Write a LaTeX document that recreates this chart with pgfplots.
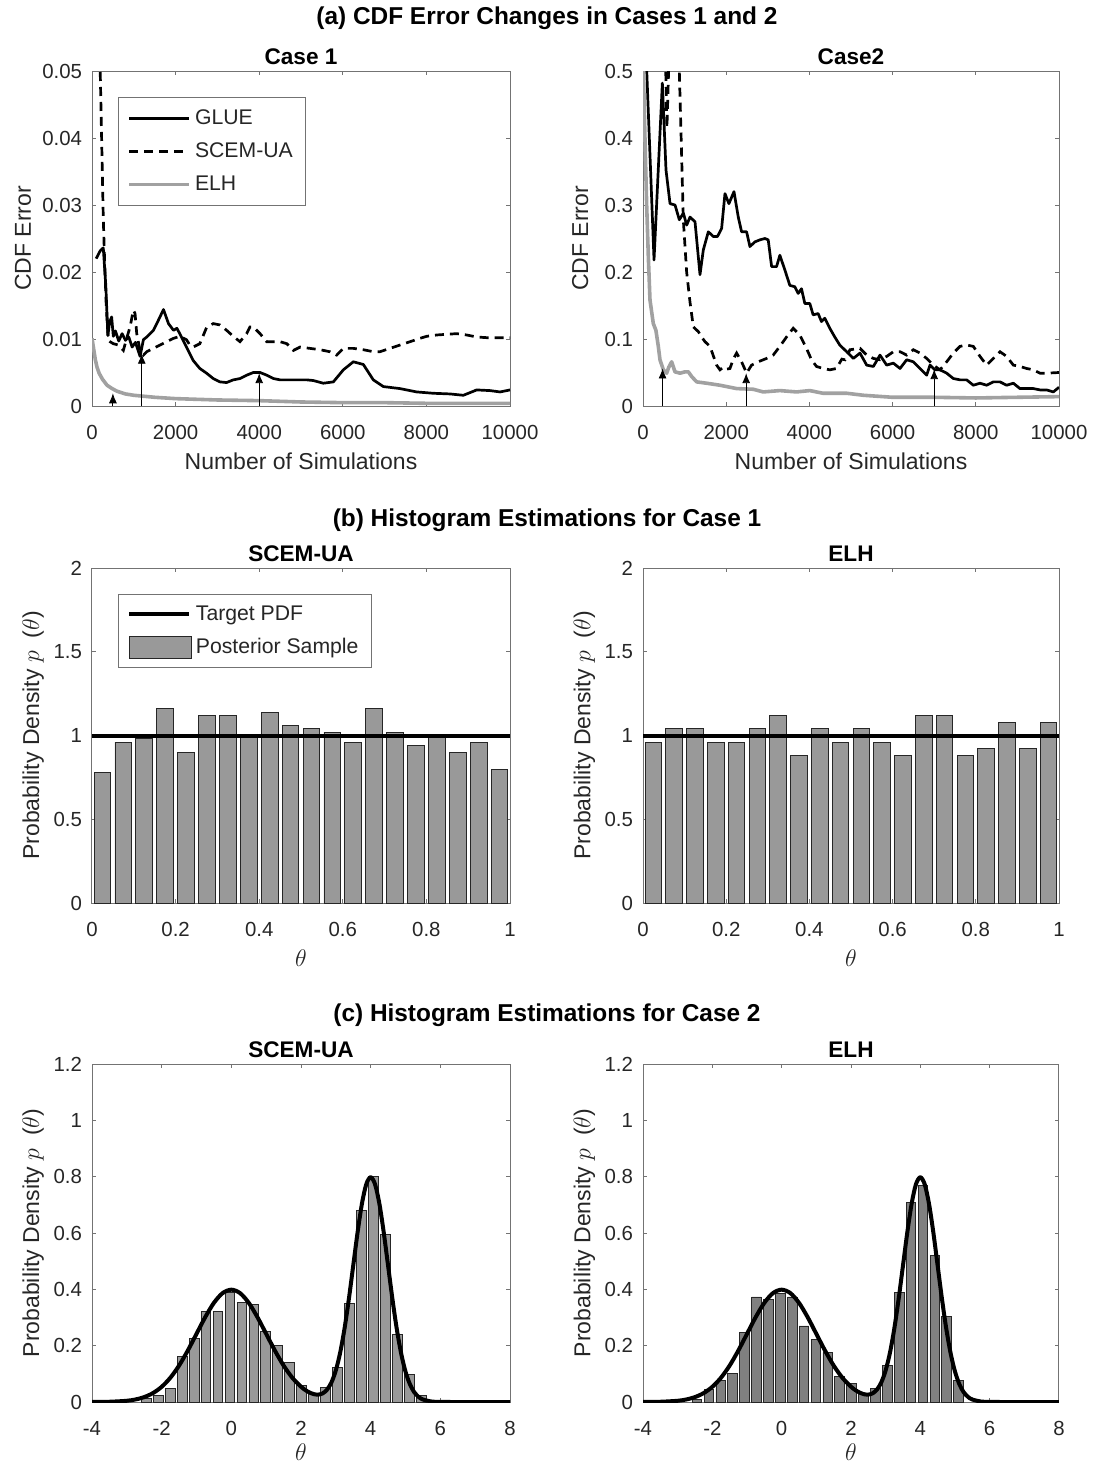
\documentclass[border=0pt]{standalone}
\usepackage{pgfplots}
\pgfplotsset{compat=1.18}
\usepackage{fontspec}
\setmainfont{Liberation Sans}
\usetikzlibrary{arrows.meta}

\newcommand\ticklab{\fontsize{10.2}{12}\selectfont}
\newcommand\leglab{\fontsize{10.6}{12.5}\selectfont}
\newcommand\lab{\fontsize{11.5}{13}\selectfont}
\newcommand\subt{\fontsize{11.3}{13}\selectfont\bfseries}
\newcommand\maint{\fontsize{12.2}{14}\selectfont\bfseries}

\definecolor{axgray}{gray}{0.45}
\definecolor{txt}{gray}{0.15}
\definecolor{elhline}{gray}{0.63}
\definecolor{barfill}{gray}{0.6}
\definecolor{barfillc}{gray}{0.5}

\tikzset{arr/.style={-{Latex[length=5pt,width=4pt]}, black, line width=0.45pt}}

\pgfplotsset{
  mlab/.style={
    scale only axis,
    scaled ticks=false,
    axis line style={axgray, line width=0.5pt},
    every tick/.style={axgray, line width=0.5pt},
    major tick length=2.2pt,
    tick align=inside,
    tick pos=both,
    tick label style={font=\ticklab, text=txt, inner sep=0pt},
    xticklabel style={text height=7.4pt, text depth=0pt},
    xticklabel shift=9.2pt,
    yticklabel shift=4.8pt,
    label style={font=\lab, text=txt, inner sep=0pt},
    title style={font=\subt, text=black, inner sep=0pt, yshift=-3pt},
    xlabel style={at={(axis description cs:0.5,0)}, anchor=north, yshift=-23pt},
    legend cell align=left,
    legend image code/.code={\draw[##1] (0pt,0pt) -- (30pt,0pt);},
  },
  boxlegend/.style={legend style={at={(0.062,0.922)}, anchor=north west, draw=axgray,
    line width=0.5pt, fill=white, font=\leglab, text=txt,
    inner xsep=4.5pt, inner ysep=#1, row sep=3.6pt}},
  cdfaxis/.style={
    mlab, width=209pt, height=167.5pt,
    xmin=0, xmax=10000,
    xtick={0,2000,4000,6000,8000,10000},
    xticklabels={0,2000,4000,6000,8000,10000},
    xlabel={Number of Simulations},
  },
  glue/.style={black, line width=1.35pt, line join=round},
  scem/.style={black, line width=1.35pt, dash pattern=on 4.5pt off 3pt},
  elh/.style={elhline, line width=1.8pt, line join=round},
  hist/.style={ybar, bar width=#1, draw=black!85, line width=0.45pt},
}

\begin{document}
\begin{tikzpicture}
\useasboundingbox (0,0) rectangle (547pt,-733pt);

\node[anchor=base] at (273.5pt,-12.5pt) {\maint (a) CDF Error Changes in Cases 1 and 2};
\node[anchor=base] at (273.5pt,-263pt) {\maint (b) Histogram Estimations for Case 1};
\node[anchor=base] at (273.5pt,-510.5pt) {\maint (c) Histogram Estimations for Case 2};

% ---------------- (a) Case 1 ----------------
\begin{axis}[cdfaxis, at={(46pt,-203pt)}, anchor=south west,
  ymin=0, ymax=0.05,
  ytick={0,0.01,0.02,0.03,0.04,0.05},
  yticklabels={0,0.01,0.02,0.03,0.04,0.05},
  ylabel={CDF Error},
  ylabel style={at={(axis description cs:-0.165,0.5)}, anchor=center},
  title={Case 1},
  boxlegend=4pt,
]
\addplot[glue] coordinates {
(100,0.0220) (200,0.0232) (270,0.0236) (330,0.0180) (380,0.0105) (420,0.0125) (470,0.0133)
(510,0.0104) (560,0.0112) (640,0.0097) (720,0.0108) (800,0.0098) (880,0.0103) (960,0.0088)
(1040,0.0095) (1150,0.0074) (1230,0.0099) (1310,0.0103) (1390,0.0108) (1470,0.0113)
(1550,0.0123) (1710,0.0144) (1830,0.0123) (1950,0.0113) (2030,0.0116) (2100,0.0108)
(2260,0.0088) (2420,0.0068) (2580,0.0056) (2740,0.0049) (2900,0.0041) (3060,0.0036)
(3220,0.0035) (3380,0.0039) (3540,0.0041) (3700,0.0046) (3860,0.0050) (4020,0.0050)
(4180,0.0046) (4340,0.0041) (4500,0.0039) (4820,0.0039) (4976,0.0039) (5140,0.0039)
(5295,0.0038) (5534,0.0034) (5774,0.0036) (6013,0.0054) (6252,0.0066) (6491,0.0062)
(6730,0.0039) (6970,0.0029) (7368,0.0026) (7767,0.0021) (8166,0.0019) (8565,0.0018)
(8884,0.0016) (9203,0.0024) (9522,0.0023) (9761,0.0021) (10000,0.0024)};
\addlegendentry{GLUE}
\addplot[scem] coordinates {
(150,0.070) (190,0.052) (230,0.040) (270,0.028) (300,0.022) (340,0.015) (390,0.0098)
(430,0.0096) (510,0.0093) (630,0.0091) (750,0.0083) (830,0.0101) (910,0.0118) (990,0.0143)
(1030,0.0138) (1070,0.0108) (1150,0.0083) (1230,0.0076) (1310,0.0081) (1470,0.0086)
(1630,0.0091) (1790,0.0096) (1950,0.0101) (2100,0.0104) (2260,0.0099) (2340,0.0091)
(2420,0.0088) (2580,0.0093) (2740,0.0117) (2900,0.0123) (3060,0.0121) (3220,0.0113)
(3380,0.0104) (3540,0.0096) (3700,0.0108) (3780,0.0118) (3860,0.0118) (4020,0.0108)
(4180,0.0096) (4340,0.0096) (4500,0.0096) (4660,0.0093) (4820,0.0083) (4980,0.0088)
(5215,0.0086) (5455,0.0084) (5694,0.0081) (5853,0.0076) (6013,0.0086) (6252,0.0086)
(6491,0.0084) (6730,0.0081) (6890,0.0081) (7129,0.0086) (7368,0.0091) (7608,0.0096)
(7847,0.0101) (8006,0.0104) (8245,0.0106) (8485,0.0107) (8724,0.0108) (8964,0.0106)
(9203,0.0103) (9442,0.0102) (9761,0.0102) (10000,0.0102)};
\addlegendentry{SCEM-UA}
\addplot[elh] coordinates {
(0,0.0101) (40,0.0085) (80,0.0069) (120,0.0058) (170,0.0049) (250,0.0040) (360,0.0031)
(480,0.0026) (600,0.0022) (800,0.0018) (1000,0.0016) (1500,0.0013) (2000,0.0011)
(3000,0.0009) (4000,0.0008) (5000,0.0006) (6000,0.0005) (7000,0.0005) (8000,0.0004)
(9000,0.0004) (10000,0.0004)};
\addlegendentry{ELH}
\draw[arr] (axis cs:500,0) -- (axis cs:500,0.0019);
\draw[arr] (axis cs:1190,0) -- (axis cs:1190,0.0078);
\draw[arr] (axis cs:4000,0) -- (axis cs:4000,0.0049);
\end{axis}

% ---------------- (a) Case 2 ----------------
\begin{axis}[cdfaxis, at={(321.5pt,-203pt)}, anchor=south west, width=208pt,
  ymin=0, ymax=0.5,
  ytick={0,0.1,0.2,0.3,0.4,0.5},
  yticklabels={0,0.1,0.2,0.3,0.4,0.5},
  ylabel={CDF Error},
  ylabel style={at={(axis description cs:-0.151,0.5)}, anchor=center},
  title={Case2},
]
\addplot[glue] coordinates {
(50,0.56) (90,0.50) (265,0.218) (465,0.482) (553,0.352) (650,0.302) (770,0.300) (873,0.278)
(970,0.288) (1050,0.270) (1130,0.282) (1250,0.275) (1370,0.196) (1450,0.233) (1570,0.260)
(1690,0.253) (1790,0.253) (1890,0.265) (1970,0.317) (2065,0.302) (2187,0.320) (2290,0.282)
(2370,0.260) (2490,0.260) (2570,0.238) (2690,0.245) (2810,0.248) (2930,0.250) (3010,0.248)
(3092,0.208) (3210,0.208) (3290,0.225) (3410,0.203) (3530,0.180) (3650,0.178) (3730,0.168)
(3810,0.175) (3890,0.153) (4010,0.153) (4090,0.136) (4210,0.138) (4290,0.126) (4370,0.131)
(4490,0.116) (4610,0.103) (4730,0.091) (4896,0.081) (5056,0.071) (5216,0.079) (5377,0.061)
(5537,0.059) (5697,0.076) (5857,0.061) (6018,0.064) (6178,0.056) (6338,0.069) (6498,0.066)
(6659,0.056) (6819,0.046) (6899,0.061) (7019,0.054) (7139,0.054) (7300,0.049) (7460,0.041)
(7620,0.039) (7780,0.039) (7941,0.031) (8101,0.034) (8261,0.031) (8421,0.036) (8582,0.036)
(8742,0.031) (8902,0.034) (9062,0.026) (9223,0.026) (9383,0.026) (9543,0.024) (9703,0.024)
(9864,0.021) (10000,0.028)};
\addplot[scem] coordinates {
(480,0.70) (575,0.415) (615,0.50) (660,0.70) (840,0.70) (873,0.50) (930,0.37) (969,0.278)
(1049,0.20) (1130,0.155) (1210,0.118) (1330,0.111) (1410,0.103) (1490,0.096) (1610,0.089)
(1690,0.075) (1770,0.061) (1850,0.054) (1930,0.058) (2010,0.055) (2090,0.056) (2170,0.070)
(2250,0.079) (2370,0.066) (2490,0.049) (2610,0.061) (2770,0.066) (2970,0.071) (3130,0.076)
(3290,0.089) (3450,0.103) (3610,0.116) (3770,0.106) (3930,0.086) (4050,0.069) (4170,0.059)
(4330,0.056) (4490,0.054) (4650,0.056) (4780,0.070) (4856,0.069) (4976,0.084) (5216,0.086)
(5377,0.076) (5537,0.071) (5697,0.069) (5857,0.074) (6018,0.081) (6178,0.081) (6338,0.076)
(6498,0.084) (6659,0.079) (6819,0.071) (6979,0.061) (7139,0.054) (7300,0.066) (7460,0.079)
(7620,0.089) (7780,0.091) (7941,0.089) (8101,0.074) (8261,0.061) (8421,0.071) (8582,0.081)
(8742,0.074) (8902,0.061) (9062,0.059) (9223,0.056) (9383,0.054) (9543,0.049) (9703,0.049)
(10000,0.050)};
\addplot[elh] coordinates {
(0,0.53) (48,0.397) (88,0.300) (128,0.223) (168,0.158) (248,0.123) (310,0.113) (368,0.089)
(408,0.069) (489,0.054) (569,0.049) (620,0.058) (689,0.066) (769,0.051) (890,0.049)
(1010,0.051) (1090,0.051) (1170,0.044) (1290,0.036) (1530,0.034) (1850,0.031) (2250,0.026)
(2650,0.025) (2890,0.021) (3290,0.023) (3690,0.021) (4010,0.023) (4330,0.019) (4900,0.019)
(5300,0.016) (6000,0.013) (7000,0.013) (8000,0.012) (9000,0.013) (10000,0.014)};
\draw[arr] (axis cs:470,0) -- (axis cs:470,0.056);
\draw[arr] (axis cs:2480,0) -- (axis cs:2480,0.049);
\draw[arr] (axis cs:7000,0) -- (axis cs:7000,0.055);
\end{axis}

% ---------------- (b) Case 1 histograms ----------------
\begin{axis}[mlab, at={(46pt,-451.5pt)}, anchor=south west, width=209pt, height=167.5pt,
  xmin=0, xmax=1, ymin=0, ymax=2,
  xtick={0,0.2,0.4,0.6,0.8,1}, xticklabels={0,0.2,0.4,0.6,0.8,1},
  ytick={0,0.5,1,1.5,2}, yticklabels={0,0.5,1,1.5,2},
  xlabel={$\theta$},
  ylabel={Probability Density $p$\ \ ($\theta$)},
  ylabel style={at={(axis description cs:-0.141,0.5)}, anchor=center},
  title={SCEM-UA},
  boxlegend=3.5pt,
]
\addplot[hist=0.04, fill=barfill, forget plot] coordinates {
(0.025,0.78) (0.075,0.96) (0.125,0.98) (0.175,1.16) (0.225,0.90) (0.275,1.12) (0.325,1.12)
(0.375,1.00) (0.425,1.14) (0.475,1.06) (0.525,1.04) (0.575,1.02) (0.625,0.96) (0.675,1.16)
(0.725,1.02) (0.775,0.94) (0.825,1.00) (0.875,0.90) (0.925,0.96) (0.975,0.80)};
\addplot[black, line width=2pt, forget plot] coordinates {(0,1) (1,1)};
\addlegendimage{black, line width=2pt}
\addlegendentry{Target PDF}
\addlegendimage{legend image code/.code={\draw[draw=black!85, fill=barfill, line width=0.5pt] (0pt,-5.5pt) rectangle (31pt,5.5pt);}}
\addlegendentry{Posterior Sample}
\end{axis}

\begin{axis}[mlab, at={(321.5pt,-451.5pt)}, anchor=south west, width=208pt, height=167.5pt,
  xmin=0, xmax=1, ymin=0, ymax=2,
  xtick={0,0.2,0.4,0.6,0.8,1}, xticklabels={0,0.2,0.4,0.6,0.8,1},
  ytick={0,0.5,1,1.5,2}, yticklabels={0,0.5,1,1.5,2},
  xlabel={$\theta$},
  ylabel={Probability Density $p$\ \ ($\theta$)},
  ylabel style={at={(axis description cs:-0.141,0.5)}, anchor=center},
  title={ELH},
]
\addplot[hist=0.04, fill=barfill] coordinates {
(0.025,0.96) (0.075,1.04) (0.125,1.04) (0.175,0.96) (0.225,0.96) (0.275,1.04) (0.325,1.12)
(0.375,0.88) (0.425,1.04) (0.475,0.96) (0.525,1.04) (0.575,0.96) (0.625,0.88) (0.675,1.12)
(0.725,1.12) (0.775,0.88) (0.825,0.92) (0.875,1.08) (0.925,0.92) (0.975,1.08)};
\addplot[black, line width=2pt] coordinates {(0,1) (1,1)};
\end{axis}

% ---------------- (c) Case 2 histograms ----------------
\begin{axis}[mlab, at={(46pt,-701pt)}, anchor=south west, width=209pt, height=169pt,
  xmin=-4, xmax=8, ymin=0, ymax=1.2,
  xtick={-4,-2,0,2,4,6,8}, xticklabels={-4,-2,0,2,4,6,8},
  ytick={0,0.2,0.4,0.6,0.8,1,1.2}, yticklabels={0,0.2,0.4,0.6,0.8,1,1.2},
  xlabel={$\theta$},
  xlabel style={yshift=2.5pt},
  ylabel={Probability Density $p$\ \ ($\theta$)},
  ylabel style={at={(axis description cs:-0.141,0.5)}, anchor=center},
  title={SCEM-UA},
]
\addplot[hist=0.28, fill=barfill] coordinates {
(-2.441,0.012) (-2.098,0.024) (-1.755,0.047) (-1.412,0.160) (-1.069,0.225) (-0.726,0.320)
(-0.383,0.320) (-0.040,0.390) (0.303,0.353) (0.646,0.347) (0.989,0.249) (1.332,0.200)
(1.675,0.142) (2.018,0.059) (2.361,0.030) (2.704,0.050) (3.047,0.122) (3.390,0.350)
(3.733,0.680) (4.076,0.800) (4.419,0.595) (4.762,0.240) (5.105,0.098) (5.448,0.024)};
\addplot[black, line width=2pt, smooth, line join=round] coordinates {
(-4,0.0001) (-3.5,0.0009) (-3,0.0044) (-2.75,0.0091) (-2.5,0.0175) (-2.25,0.0317)
(-2,0.0540) (-1.75,0.0863) (-1.5,0.1295) (-1.25,0.1827) (-1,0.2420) (-0.75,0.3011)
(-0.5,0.3521) (-0.25,0.3867) (0,0.3989) (0.25,0.3867) (0.5,0.3521) (0.75,0.3011)
(1,0.2420) (1.25,0.1827) (1.5,0.1295) (1.75,0.0863) (2,0.0543) (2.125,0.0424)
(2.25,0.0335) (2.375,0.0278) (2.5,0.0264) (2.625,0.0309) (2.75,0.0442) (2.875,0.0699)
(3,0.1124) (3.125,0.1756) (3.25,0.2611) (3.375,0.3666) (3.5,0.4848) (3.625,0.6028)
(3.75,0.7045) (3.875,0.7736) (4,0.7980) (4.125,0.7734) (4.25,0.7042) (4.375,0.6023)
(4.5,0.4840) (4.625,0.3653) (4.75,0.2590) (4.875,0.1726) (5,0.1080) (5.125,0.0635)
(5.25,0.0351) (5.375,0.0182) (5.5,0.0089) (5.75,0.0017) (6,0.0003) (6.5,0) (7,0) (8,0)};
\end{axis}

\begin{axis}[mlab, at={(321.5pt,-701pt)}, anchor=south west, width=208pt, height=169pt,
  xmin=-4, xmax=8, ymin=0, ymax=1.2,
  xtick={-4,-2,0,2,4,6,8}, xticklabels={-4,-2,0,2,4,6,8},
  ytick={0,0.2,0.4,0.6,0.8,1,1.2}, yticklabels={0,0.2,0.4,0.6,0.8,1,1.2},
  xlabel={$\theta$},
  xlabel style={yshift=2.5pt},
  ylabel={Probability Density $p$\ \ ($\theta$)},
  ylabel style={at={(axis description cs:-0.141,0.5)}, anchor=center},
  title={ELH},
]
\addplot[hist=0.28, fill=barfillc] coordinates {
(-2.441,0.010) (-2.098,0.044) (-1.755,0.075) (-1.412,0.103) (-1.069,0.246) (-0.726,0.373)
(-0.383,0.364) (-0.040,0.385) (0.303,0.373) (0.646,0.270) (0.989,0.223) (1.332,0.175)
(1.675,0.091) (2.018,0.065) (2.361,0.030) (2.704,0.047) (3.047,0.130) (3.390,0.390)
(3.733,0.710) (4.076,0.770) (4.419,0.520) (4.762,0.305) (5.105,0.077)};
\addplot[black, line width=2pt, smooth, line join=round] coordinates {
(-4,0.0001) (-3.5,0.0009) (-3,0.0044) (-2.75,0.0091) (-2.5,0.0175) (-2.25,0.0317)
(-2,0.0540) (-1.75,0.0863) (-1.5,0.1295) (-1.25,0.1827) (-1,0.2420) (-0.75,0.3011)
(-0.5,0.3521) (-0.25,0.3867) (0,0.3989) (0.25,0.3867) (0.5,0.3521) (0.75,0.3011)
(1,0.2420) (1.25,0.1827) (1.5,0.1295) (1.75,0.0863) (2,0.0543) (2.125,0.0424)
(2.25,0.0335) (2.375,0.0278) (2.5,0.0264) (2.625,0.0309) (2.75,0.0442) (2.875,0.0699)
(3,0.1124) (3.125,0.1756) (3.25,0.2611) (3.375,0.3666) (3.5,0.4848) (3.625,0.6028)
(3.75,0.7045) (3.875,0.7736) (4,0.7980) (4.125,0.7734) (4.25,0.7042) (4.375,0.6023)
(4.5,0.4840) (4.625,0.3653) (4.75,0.2590) (4.875,0.1726) (5,0.1080) (5.125,0.0635)
(5.25,0.0351) (5.375,0.0182) (5.5,0.0089) (5.75,0.0017) (6,0.0003) (6.5,0) (7,0) (8,0)};
\end{axis}
\end{tikzpicture}
\end{document}
